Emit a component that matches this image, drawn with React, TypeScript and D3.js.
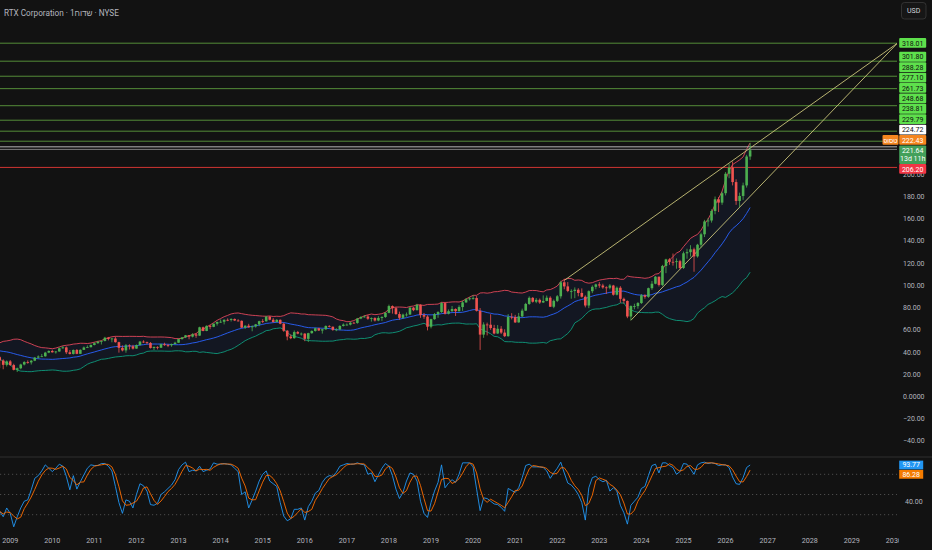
import React, { useEffect, useRef } from 'react';
import * as d3 from 'd3';

// Monthly candles, index 0 = Oct 2008, last = Aug 2026
const startYear = 2008;
const startMonth = 9;

// closes before the first visible candle (Mar 2007 .. Sep 2008), only used to warm up the bands
const priorCloses = [38.4, 39.5, 41.7, 41.8, 43.1, 44.0, 47.5, 45.2, 44.1, 45.1, 43.3, 41.7, 40.6, 42.8, 41.9, 36.4, 37.8, 38.7, 35.4];

const closes = [
  32.4, 28.5, 31.6,
  28.3, 24.0, 25.4, 28.8, 31.0, 30.7, 32.2, 35.0, 36.0, 36.2, 39.5, 41.0,
  39.8, 40.5, 43.4, 44.2, 39.8, 38.3, 41.9, 38.4, 42.0, 44.1, 44.4, 46.4,
  48.0, 49.3, 50.0, 52.9, 51.8, 52.2, 48.9, 43.8, 41.5, 46.0, 45.2, 43.1,
  46.3, 49.4, 48.9, 48.2, 43.7, 44.6, 43.9, 47.1, 46.2, 46.1, 47.2, 48.4,
  51.7, 53.2, 55.1, 53.9, 55.9, 54.8, 62.3, 59.0, 63.6, 62.7, 65.5, 67.1,
  67.3, 69.0, 68.9, 69.8, 68.4, 68.1, 62.0, 63.7, 62.3, 63.1, 64.9, 67.8,
  67.7, 71.9, 69.1, 67.1, 69.0, 65.5, 59.2, 54.0, 52.5, 58.0, 56.6, 56.6,
  51.9, 57.0, 59.0, 61.4, 59.4, 60.5, 63.5, 62.8, 60.0, 60.3, 63.5, 64.7,
  64.7, 66.4, 66.2, 70.2, 71.6, 72.0, 70.0, 70.6, 68.4, 70.7, 71.6, 75.3,
  81.4, 79.5, 74.2, 70.8, 73.7, 73.8, 80.0, 77.7, 82.5, 73.3, 71.9, 62.8,
  69.6, 74.2, 76.0, 84.1, 74.5, 76.8, 78.8, 76.8, 80.5, 84.7, 87.5, 88.4,
  88.6, 77.1, 55.7, 64.8, 64.6, 61.6, 56.7, 61.0, 57.5, 54.3, 71.7, 71.5,
  66.7, 72.1, 77.3, 83.3, 88.8, 85.3, 87.0, 84.6, 86.0, 88.9, 80.8, 86.1,
  90.2, 102.8, 99.1, 95.0, 95.0, 96.1, 93.2, 89.8, 81.9, 94.8, 98.7, 100.9,
  99.9, 98.2, 97.9, 99.9, 91.6, 97.9, 87.9, 86.0, 72.0, 81.4, 81.4, 84.1,
  91.1, 89.7, 97.5, 101.5, 107.8, 100.4, 117.5, 123.4, 121.2, 121.0, 121.8, 115.7,
  128.9, 129.9, 132.5, 126.1, 136.6, 146.0, 157.6, 158.4, 167.0, 177.5, 174.5, 183.0,
  200.5, 206.0, 193.0, 176.0, 180.5, 190.0, 216.0, 221.64,
];

const highs = [
  36.5, 33.5, 32.5,
  32.8, 29.5, 26.0, 29.5, 31.8, 32.5, 32.8, 35.6, 37.0, 38.3, 40.2, 41.5,
  42.0, 41.0, 44.0, 45.4, 45.0, 41.8, 42.3, 42.7, 42.4, 45.0, 46.0, 46.8,
  48.8, 50.2, 50.4, 53.7, 53.6, 52.8, 54.0, 49.3, 46.0, 47.2, 47.0, 46.5,
  46.8, 50.0, 50.6, 49.4, 49.0, 45.0, 45.2, 47.5, 48.4, 47.3, 47.6, 49.3,
  52.2, 53.6, 55.4, 55.3, 57.0, 57.0, 62.8, 62.9, 64.0, 64.6, 65.8, 67.4,
  69.4, 69.5, 70.3, 70.4, 70.2, 69.6, 68.5, 64.2, 65.4, 63.9, 65.3, 68.2,
  69.7, 72.5, 72.4, 70.6, 69.6, 69.4, 66.4, 59.8, 56.0, 59.4, 59.0, 57.6,
  57.0, 57.4, 59.5, 62.0, 61.8, 61.0, 64.0, 64.2, 63.0, 61.5, 64.2, 65.8,
  65.8, 67.3, 67.2, 70.7, 72.2, 73.2, 73.5, 71.2, 71.3, 72.3, 72.2, 76.0,
  82.7, 82.0, 80.6, 76.4, 74.6, 75.6, 80.6, 80.5, 83.4, 83.0, 75.2, 73.1,
  70.0, 75.1, 76.8, 85.0, 84.6, 78.4, 81.5, 79.3, 82.1, 86.2, 88.6, 89.5,
  91.2, 90.4, 79.6, 66.8, 66.5, 74.0, 64.5, 64.3, 63.4, 60.5, 74.2, 75.0,
  73.5, 75.2, 79.1, 84.3, 90.1, 89.5, 88.6, 88.2, 91.0, 90.9, 90.2, 87.3,
  91.3, 104.2, 106.0, 103.0, 96.5, 98.2, 97.5, 97.3, 91.0, 95.5, 100.0, 101.6,
  103.0, 101.5, 99.2, 101.2, 100.5, 99.0, 99.3, 89.0, 86.5, 82.0, 83.5, 85.0,
  92.2, 92.0, 98.0, 104.0, 108.5, 108.0, 118.5, 124.0, 124.5, 128.7, 124.3, 123.0,
  130.5, 133.0, 136.2, 134.0, 137.4, 147.5, 159.0, 160.5, 168.5, 180.0, 179.5, 184.5,
  202.0, 209.5, 211.5, 195.5, 183.5, 192.5, 217.5, 228.0,
];

const lows = [
  25.5, 24.5, 27.0,
  27.5, 23.5, 22.0, 24.5, 28.0, 29.5, 28.8, 31.8, 34.0, 35.5, 35.8, 39.0,
  39.5, 38.6, 40.3, 43.0, 38.2, 37.8, 37.8, 38.1, 38.3, 41.8, 43.6, 44.1,
  46.0, 47.4, 46.8, 49.6, 50.5, 48.8, 48.5, 39.5, 40.6, 39.4, 42.3, 42.3,
  43.0, 45.8, 48.2, 46.9, 43.2, 41.8, 42.4, 43.6, 45.6, 44.4, 44.8, 46.8,
  48.3, 51.2, 52.6, 51.5, 53.2, 52.8, 54.5, 58.7, 58.8, 60.6, 62.4, 63.8,
  66.2, 64.9, 67.8, 67.5, 67.9, 67.5, 61.7, 60.8, 61.9, 58.7, 62.0, 63.3,
  66.0, 67.4, 68.6, 66.4, 66.6, 65.0, 58.2, 50.6, 51.6, 52.0, 56.0, 54.8,
  49.8, 49.0, 56.5, 58.4, 59.0, 56.6, 60.0, 62.2, 59.1, 58.8, 59.6, 63.0,
  63.8, 64.0, 65.6, 65.5, 69.6, 71.0, 69.0, 67.4, 67.5, 67.8, 68.0, 70.8,
  74.9, 74.6, 73.5, 69.0, 70.0, 71.9, 73.4, 76.8, 77.5, 70.8, 69.9, 59.5,
  61.3, 69.1, 70.8, 75.3, 73.8, 73.9, 76.2, 72.5, 76.4, 77.0, 84.3, 86.4,
  87.2, 76.5, 41.9, 52.8, 55.0, 60.0, 56.0, 56.4, 56.2, 53.5, 53.8, 69.4,
  66.2, 66.4, 71.3, 77.0, 82.5, 84.5, 84.0, 83.4, 84.2, 85.7, 80.6, 79.5,
  85.0, 88.1, 96.5, 93.9, 88.0, 88.5, 90.2, 89.1, 80.2, 79.5, 93.0, 96.5,
  97.8, 97.0, 92.3, 96.5, 90.8, 91.0, 84.4, 83.6, 70.5, 68.6, 78.5, 79.0,
  83.3, 88.0, 88.8, 96.0, 101.0, 99.0, 99.5, 111.0, 118.5, 117.8, 115.0, 114.5,
  114.8, 124.0, 126.0, 112.3, 125.0, 134.0, 143.5, 153.0, 156.5, 164.0, 166.0, 172.5,
  181.0, 196.5, 190.0, 172.5, 170.5, 177.0, 188.0, 213.0,
];

// Stoch RSI %K
const stochK = [
  25, 17, 30, 22, 2, 17, 30, 40, 42, 57,
  74, 78, 85, 94, 89, 84, 89, 95, 92, 77,
  57, 78, 58, 69, 79, 89, 94, 93, 93, 96,
  96, 92, 85, 62, 38, 22, 42, 40, 30, 50,
  66, 63, 55, 35, 34, 37, 50, 54, 59, 64,
  72, 87, 94, 98, 84, 86, 85, 92, 84, 86,
  88, 97, 95, 95, 96, 95, 94, 89, 84, 50,
  54, 30, 42, 55, 70, 80, 85, 70, 66, 62,
  38, 18, 11, 14, 28, 28, 30, 12, 32, 40,
  52, 56, 68, 75, 78, 77, 83, 92, 94, 96,
  95, 95, 97, 95, 94, 80, 82, 69, 79, 89,
  96, 92, 78, 58, 44, 53, 70, 82, 80, 70,
  40, 22, 16, 38, 55, 68, 94, 60, 67, 72,
  68, 80, 97,
  97, 97, 91, 58, 26, 45, 44, 40, 36, 35,
  31, 25, 59, 56, 53, 60, 75, 93, 95, 91,
  91, 91, 90, 85, 74, 82, 89, 98, 82, 67,
  64, 58, 50, 38, 12, 60, 75, 77, 72, 69,
  71, 55, 60, 55, 34, 23, 6, 34, 40, 46,
  59, 62, 78, 93, 95, 82, 97, 97, 93, 90,
  80, 84, 96, 95, 88, 80, 94, 97, 98, 96,
  97, 96, 93, 94, 94, 90, 76, 66, 65, 75,
  90.07, 93.77,
];

const priceTicks = [200, 180, 160, 140, 120, 100, 80, 60, 40, 20, 0, -20, -40];
const stochLevels = [80, 50, 20];
const stochTicks = [40];
const yearTicks = [2009, 2010, 2011, 2012, 2013, 2014, 2015, 2016, 2017, 2018, 2019, 2020, 2021, 2022, 2023, 2024, 2025, 2026, 2027, 2028, 2029, 2030];

const greenLevels = [318.01, 301.80, 288.28, 277.10, 261.73, 248.68, 238.81, 229.79];
const whiteLevel = 224.72;
const postPrice = 222.43;
const lastPrice = 221.64;
const redLevel = 206.20;
const countdown = '13d 11h';

// [year, month(0-based), price]
const trendLines = [
  [[2022, 2, 104.5], [2030, 1, 318.01]],
  [[2023, 9, 68.6], [2030, 1, 318.01]],
];

const FONT = "Roboto, 'Liberation Sans', 'DejaVu Sans', sans-serif";
const BG = '#121212';

const idx = (year: number, month: number) => (year - startYear) * 12 + month - startMonth;

export default function App() {
  const ref = useRef<SVGSVGElement | null>(null);

  useEffect(() => {
    if (!ref.current) return;
    document.body.style.margin = '0';
    document.body.style.background = BG;
    const svg = d3.select(ref.current);
    svg.selectAll('*').remove();

    const right = 897;
    const split = 457;

    const x = d3.scaleLinear().domain([idx(2010, 0), idx(2030, 0)]).range([52.3, 893.9]);
    const y = d3.scaleLinear().domain([0, 200]).range([396.5, 174.3]);
    const ys = d3.scaleLinear().domain([20, 80]).range([514.7, 474.3]);

    const defs = svg.append('defs');
    defs.append('clipPath').attr('id', 'pricePane').append('rect').attr('x', 0).attr('y', 0).attr('width', right).attr('height', split);
    defs.append('clipPath').attr('id', 'stochPane').append('rect').attr('x', 0).attr('y', split).attr('width', right).attr('height', 532 - split);
    defs.append('clipPath').attr('id', 'timeAxis').append('rect').attr('x', 0).attr('y', 532).attr('width', 899).attr('height', 18);

    svg.append('rect').attr('width', 932).attr('height', 550).attr('fill', BG);

    const candles = closes.map((c, i) => ({
      i,
      o: i === 0 ? priorCloses[priorCloses.length - 1] : closes[i - 1],
      h: highs[i],
      l: lows[i],
      c,
    }));

    // Bollinger bands 20, 2
    const all = priorCloses.concat(closes);
    const bands = closes.map((_, i) => {
      const w = all.slice(i, i + 20);
      const m = d3.mean(w) as number;
      const sd = Math.sqrt(d3.mean(w, v => (v - m) * (v - m)) as number);
      return { i, mid: m, up: m + 2 * sd, lo: m - 2 * sd };
    });

    const price = svg.append('g').attr('clip-path', 'url(#pricePane)');

    price.append('path')
      .datum(bands)
      .attr('fill', 'rgba(41, 98, 255, 0.07)')
      .attr('d', d3.area<any>().x(d => x(d.i)).y0(d => y(d.lo)).y1(d => y(d.up)));

    const bandLine = (key: 'up' | 'mid' | 'lo', color: string) => {
      price.append('path')
        .datum(bands)
        .attr('fill', 'none')
        .attr('stroke', color)
        .attr('stroke-width', 0.9)
        .attr('d', d3.line<any>().x(d => x(d.i)).y(d => y(d[key])));
    };
    bandLine('up', '#e0465a');
    bandLine('mid', '#2962ff');
    bandLine('lo', '#0f9a7a');

    // horizontal levels
    greenLevels.forEach(v => {
      price.append('line').attr('x1', 0).attr('x2', right).attr('y1', y(v)).attr('y2', y(v))
        .attr('stroke', '#5b9a3c').attr('stroke-width', 0.9);
    });
    price.append('line').attr('x1', 0).attr('x2', right).attr('y1', y(whiteLevel)).attr('y2', y(whiteLevel))
      .attr('stroke', '#c8c8c8').attr('stroke-width', 0.9);
    price.append('line').attr('x1', 0).attr('x2', right).attr('y1', y(postPrice)).attr('y2', y(postPrice))
      .attr('stroke', '#8c8c8c').attr('stroke-width', 0.9);
    price.append('line').attr('x1', 0).attr('x2', right).attr('y1', y(redLevel)).attr('y2', y(redLevel))
      .attr('stroke', '#e53935').attr('stroke-width', 0.9);

    // trend lines
    trendLines.forEach(([a, b]) => {
      price.append('line')
        .attr('x1', x(idx(a[0], a[1]))).attr('y1', y(a[2]))
        .attr('x2', x(idx(b[0], b[1]))).attr('y2', y(b[2]))
        .attr('stroke', '#c9c47a').attr('stroke-width', 0.9);
    });

    // candles
    const up = '#4caf50', down = '#ef5350';
    const cg = price.append('g').selectAll('g').data(candles).join('g');
    cg.append('line')
      .attr('x1', d => x(d.i)).attr('x2', d => x(d.i))
      .attr('y1', d => y(d.h)).attr('y2', d => y(d.l))
      .attr('stroke', d => (d.c >= d.o ? up : down)).attr('stroke-width', 0.8);
    cg.append('rect')
      .attr('x', d => x(d.i) - 1.3)
      .attr('width', 2.6)
      .attr('y', d => y(Math.max(d.o, d.c)))
      .attr('height', d => Math.max(0.8, Math.abs(y(d.o) - y(d.c))))
      .attr('fill', d => (d.c >= d.o ? up : down));

    // title
    svg.append('text')
      .attr('x', 4).attr('y', 15.5)
      .attr('font-family', FONT).attr('font-size', 8.2).attr('fill', '#b2b5be')
      .style('unicode-bidi', 'bidi-override').style('direction', 'ltr')
      .text('RTX Corporation · 1חודש · NYSE');

    // currency box
    svg.append('rect').attr('x', 901.5).attr('y', 2.5).attr('width', 24.5).attr('height', 16.5).attr('rx', 3)
      .attr('fill', '#161616').attr('stroke', '#3a3a3a').attr('stroke-width', 0.8);
    svg.append('text').attr('x', 913.7).attr('y', 13.4).attr('text-anchor', 'middle')
      .attr('font-family', FONT).attr('font-size', 7).attr('fill', '#d1d4dc').text('USD');

    // price axis labels
    svg.append('g').selectAll('text').data(priceTicks).join('text')
      .attr('x', 903).attr('y', d => y(d) + 2.5)
      .attr('font-family', FONT).attr('font-size', 7).attr('fill', '#b2b5be')
      .text(d => (d === 0 ? '0.0000' : d < 0 ? '\u2212' + Math.abs(d).toFixed(2) : d.toFixed(2)));

    // price tags, stacked around the last price tag
    const tagH = 10.4;
    const tagX = 899.2, tagW = 27;
    const curY = y(lastPrice);
    const curTop = curY - 4.8;
    const curBottom = curY + 13.8;

    type Tag = { v: number; c: number; bg: string; fg: string };
    const above: { v: number; bg: string; fg: string }[] = [
      { v: postPrice, bg: '#f5861f', fg: '#ffffff' },
      { v: whiteLevel, bg: '#ffffff', fg: '#111111' },
      ...greenLevels.slice().reverse().map(v => ({ v, bg: '#5ee04c', fg: '#111111' })),
    ];
    const tags: Tag[] = [];
    let limit = curTop;
    above.forEach(t => {
      const c = Math.min(y(t.v), limit - tagH / 2);
      tags.push({ ...t, c });
      limit = c - tagH / 2;
    });
    tags.push({ v: redLevel, c: Math.max(y(redLevel), curBottom + tagH / 2), bg: '#f23645', fg: '#ffffff' });

    const tg = svg.append('g');
    tags.forEach(t => {
      tg.append('rect').attr('x', tagX).attr('y', t.c - tagH / 2).attr('width', tagW).attr('height', tagH - 0.6)
        .attr('rx', 1).attr('fill', t.bg);
      tg.append('text').attr('x', tagX + tagW / 2).attr('y', t.c + 2.4).attr('text-anchor', 'middle')
        .attr('font-family', FONT).attr('font-size', 7).attr('fill', t.fg).text(t.v.toFixed(2));
    });
    const post = tags[0];
    tg.append('rect').attr('x', 882.5).attr('y', post.c - tagH / 2).attr('width', 16).attr('height', tagH - 0.6)
      .attr('rx', 1).attr('fill', '#f5861f');
    tg.append('text').attr('x', 890.5).attr('y', post.c + 2.4).attr('text-anchor', 'middle')
      .attr('font-family', FONT).attr('font-size', 6.5).attr('fill', '#ffffff')
      .style('unicode-bidi', 'bidi-override').style('direction', 'ltr').text('פוסט');

    tg.append('rect').attr('x', tagX).attr('y', curTop).attr('width', tagW).attr('height', curBottom - curTop)
      .attr('rx', 1).attr('fill', '#43a05a');
    tg.append('text').attr('x', tagX + tagW / 2).attr('y', curY + 2.4).attr('text-anchor', 'middle')
      .attr('font-family', FONT).attr('font-size', 7).attr('fill', '#ffffff').text(lastPrice.toFixed(2));
    tg.append('text').attr('x', tagX + tagW / 2).attr('y', curY + 11).attr('text-anchor', 'middle')
      .attr('font-family', FONT).attr('font-size', 7).attr('fill', '#ffffff').text(countdown);

    // pane separator
    svg.append('line').attr('x1', 0).attr('x2', 932).attr('y1', split).attr('y2', split)
      .attr('stroke', '#2e2e2e').attr('stroke-width', 1);

    // stoch RSI pane
    const stoch = svg.append('g').attr('clip-path', 'url(#stochPane)');
    stochLevels.forEach(v => {
      stoch.append('line').attr('x1', 0).attr('x2', right).attr('y1', ys(v)).attr('y2', ys(v))
        .attr('stroke', '#5a5a5a').attr('stroke-width', 0.8).attr('stroke-dasharray', '1.2,2.8');
    });
    const stochD = stochK.map((_, i) => d3.mean(stochK.slice(Math.max(0, i - 2), i + 1)) as number);
    const sLine = d3.line<number>().x((_, i) => x(i)).y(d => ys(d));
    stoch.append('path').datum(stochK).attr('fill', 'none').attr('stroke', '#2196f3').attr('stroke-width', 0.9).attr('d', sLine);
    stoch.append('path').datum(stochD).attr('fill', 'none').attr('stroke', '#ff6d00').attr('stroke-width', 0.9).attr('d', sLine);

    svg.append('g').selectAll('text').data(stochTicks).join('text')
      .attr('x', 905).attr('y', d => ys(d) + 2.5)
      .attr('font-family', FONT).attr('font-size', 7).attr('fill', '#b2b5be')
      .text(d => d.toFixed(2));

    const kLast = stochK[stochK.length - 1];
    const dLast = stochD[stochD.length - 1];
    const sTagH = 8.8;
    const kC = ys(kLast);
    const dC = Math.max(ys(dLast), kC + sTagH + 0.5);
    [[kLast, kC, '#2196f3'], [dLast, dC, '#f57c00']].forEach(([v, c, bg]) => {
      svg.append('rect').attr('x', 899.2).attr('y', (c as number) - sTagH / 2).attr('width', 24).attr('height', sTagH)
        .attr('fill', bg as string);
      svg.append('text').attr('x', 911.2).attr('y', (c as number) + 2.4).attr('text-anchor', 'middle')
        .attr('font-family', FONT).attr('font-size', 7).attr('fill', '#ffffff').text((v as number).toFixed(2));
    });

    // time axis
    svg.append('g').attr('clip-path', 'url(#timeAxis)').selectAll('text').data(yearTicks).join('text')
      .attr('x', d => x(idx(d, 0))).attr('y', 543)
      .attr('text-anchor', 'middle')
      .attr('font-family', FONT).attr('font-size', 7.2).attr('fill', '#b2b5be')
      .text(d => String(d));
  }, []);

  return <svg ref={ref} width={932} height={550} style={{ display: 'block', background: BG }} />;
}
